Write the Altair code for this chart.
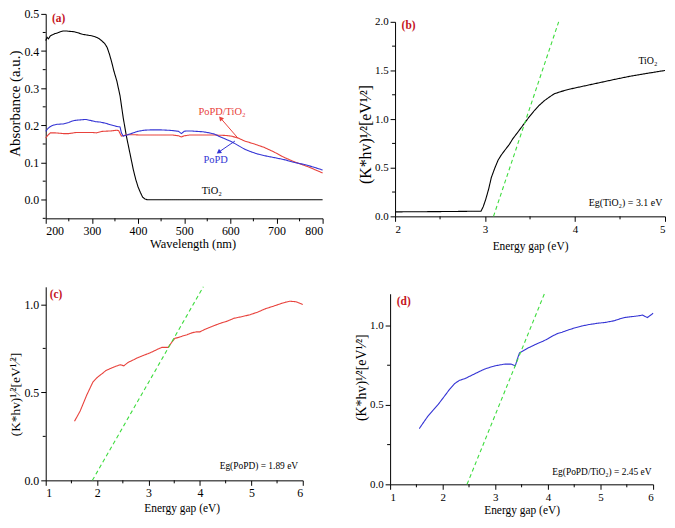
import altair as alt
import pandas as pd

W, H = 664, 510
FONT = "Liberation Serif"
RED = "#e8423c"
BLUE = "#3434d4"
GREEN = "#3ddc3d"
LABEL_RED = "#c4121c"

# ---------------- panel (a) : absorbance ----------------
a_tio2_x = [200, 203, 206, 210, 215, 220, 226, 232, 238, 245, 252, 262, 270, 280, 290, 300, 308,
            315, 322, 328, 333, 338, 343, 348, 354, 361, 368, 375, 380, 385, 390, 395, 400, 405,
            410, 415, 420, 500, 600, 700, 800]
a_tio2_y = [0.428, 0.437, 0.433, 0.441, 0.444, 0.447, 0.449, 0.452, 0.454, 0.454, 0.453, 0.452,
            0.449, 0.445, 0.443, 0.441, 0.438, 0.434, 0.427, 0.420, 0.410, 0.392, 0.370, 0.345,
            0.320, 0.280, 0.220, 0.170, 0.140, 0.110, 0.080, 0.055, 0.035, 0.020, 0.007, 0.002,
            0.0, 0.0, 0.0, 0.0, 0.0]

a_popd_x = [200, 205, 210, 217, 225, 238, 250, 258, 266, 276, 287, 298, 308, 318, 329, 340, 354,
            361, 364, 368, 378, 390, 399, 413, 427, 448, 465, 476, 488, 494, 500, 504, 515, 526,
            540, 554, 565, 575, 590, 603, 617, 631, 645, 659, 680, 701, 720, 736, 760, 780, 800]
a_popd_y = [0.184, 0.192, 0.197, 0.201, 0.203, 0.204, 0.208, 0.212, 0.214, 0.215, 0.216, 0.213,
            0.210, 0.209, 0.206, 0.202, 0.197, 0.196, 0.180, 0.171, 0.175, 0.180, 0.184, 0.187,
            0.188, 0.188, 0.187, 0.186, 0.184, 0.178, 0.184, 0.185, 0.185, 0.184, 0.183, 0.180,
            0.177, 0.171, 0.163, 0.156, 0.146, 0.136, 0.129, 0.123, 0.117, 0.112, 0.107, 0.101,
            0.095, 0.088, 0.080]

a_comp_x = [200, 205, 210, 220, 238, 250, 266, 280, 301, 310, 322, 340, 354, 358, 364, 370, 375,
            390, 406, 440, 476, 488, 494, 500, 511, 540, 568, 590, 603, 617, 631, 652, 673, 694,
            715, 735, 750, 770, 800]
a_comp_y = [0.166, 0.174, 0.180, 0.180, 0.178, 0.178, 0.181, 0.181, 0.181, 0.180, 0.184, 0.185,
            0.187, 0.186, 0.171, 0.173, 0.175, 0.175, 0.174, 0.174, 0.174, 0.172, 0.169, 0.172,
            0.174, 0.174, 0.174, 0.173, 0.171, 0.166, 0.158, 0.150, 0.141, 0.129, 0.115, 0.104,
            0.097, 0.088, 0.072]

a_labels = ["(a)", "PoPD/TiO₂", "PoPD", "TiO₂"]
a_label_x = [228, 582, 568, 560]
a_label_y = [0.487, 0.236, 0.106, 0.023]
arrow_comp = {"x": [617, 580], "y": [0.165, 0.218]}
arrow_popd = {"x": [610, 576], "y": [0.158, 0.129]}
arrow_angles = [319, 235]

# ---------------- panel (b) : TiO2 ----------------
b_x = [2.0, 2.5, 2.955, 2.98, 3.006, 3.04, 3.07, 3.11, 3.146, 3.18, 3.22, 3.27, 3.31, 3.36, 3.40,
       3.44, 3.48, 3.55, 3.60, 3.66, 3.72, 3.77, 3.85, 3.95, 4.1, 4.25, 4.45, 4.61, 4.8, 5.0]
b_y = [0.046, 0.049, 0.053, 0.10, 0.17, 0.28, 0.40, 0.50, 0.58, 0.63, 0.68, 0.74, 0.80, 0.86,
       0.91, 0.96, 1.01, 1.09, 1.14, 1.19, 1.23, 1.26, 1.285, 1.31, 1.34, 1.37, 1.41, 1.44, 1.47, 1.50]
b_fit_x = [3.094, 3.818]
b_fit_y = [0.0, 2.0]

# ---------------- panel (c) : PoPD ----------------
c_x = [1.56, 1.67, 1.80, 1.92, 2.01, 2.10, 2.17, 2.26, 2.36, 2.45, 2.52, 2.60, 2.70, 2.79, 2.88,
       2.98, 3.07, 3.16, 3.26, 3.38, 3.44, 3.51, 3.58, 3.66, 3.75, 3.85, 3.93, 4.0, 4.08, 4.16,
       4.28, 4.41, 4.53, 4.66, 4.81, 4.97, 5.12, 5.28, 5.43, 5.59, 5.67, 5.75, 5.87, 6.0]
c_y = [0.336, 0.394, 0.486, 0.560, 0.587, 0.607, 0.624, 0.636, 0.648, 0.657, 0.651, 0.670, 0.684,
       0.697, 0.708, 0.719, 0.730, 0.743, 0.756, 0.756, 0.780, 0.807, 0.812, 0.820, 0.828, 0.839,
       0.844, 0.844, 0.856, 0.866, 0.880, 0.894, 0.905, 0.921, 0.930, 0.941, 0.956, 0.976, 0.990,
       1.006, 1.013, 1.018, 1.015, 1.0]
c_fit_x = [1.908, 4.066]
c_fit_y = [0.0, 1.1]

# ---------------- panel (d) : PoPD/TiO2 ----------------
d_x = [1.555, 1.64, 1.725, 1.82, 1.914, 2.04, 2.13, 2.23, 2.32, 2.42, 2.51, 2.61, 2.70, 2.80,
       2.90, 2.99, 3.09, 3.18, 3.30, 3.38, 3.42, 3.46, 3.54, 3.62, 3.71, 3.81, 3.90, 3.99, 4.08,
       4.18, 4.27, 4.37, 4.50, 4.63, 4.78, 4.94, 5.10, 5.26, 5.35, 5.45, 5.57, 5.70, 5.80, 5.89, 6.0]
d_y = [0.351, 0.392, 0.432, 0.468, 0.503, 0.558, 0.598, 0.635, 0.655, 0.665, 0.680, 0.696, 0.711,
       0.726, 0.737, 0.746, 0.752, 0.757, 0.757, 0.746, 0.79, 0.828, 0.843, 0.858, 0.872, 0.888,
       0.900, 0.915, 0.933, 0.949, 0.958, 0.970, 0.984, 0.996, 1.006, 1.014, 1.020, 1.030, 1.040,
       1.050, 1.055, 1.060, 1.066, 1.050, 1.077]
d_fit_x = [2.463, 3.932]
d_fit_y = [0.0, 1.199]

YT = "(K*hv)¹⁄²[eV¹⁄²]"


def frame(x, y):
    df = pd.DataFrame({"x": x, "y": y})
    df["order"] = range(len(df))
    return df


def tframe(labels, xs, ys):
    return pd.DataFrame({"x": xs, "y": ys, "t": labels})


def panel(xdom, xr, ydom, yr, xvals, yvals, xminor, yminor, xtitle, ytitle,
          xfmt, yfmt, label_size, xtitle_size, ytitle_size, curves, texts, arrows=(),
          xtitle_pad=1, xtitle_x=None, ytitle_y=None):
    xs = alt.Scale(domain=xdom, range=xr, nice=False, zero=False)
    ys = alt.Scale(domain=ydom, range=yr, nice=False, zero=False)
    common = dict(tickSize=5, labelPadding=2, labelFontSize=label_size,
                  grid=False, labelOverlap=False, labelFont=FONT, titleFont=FONT,
                  labelColor="black", titleColor="black", domainColor="black",
                  tickColor="black", titleFontWeight="normal", domainWidth=1, tickWidth=1)
    xextra = {} if xtitle_x is None else {"titleX": xtitle_x}
    yextra = {} if ytitle_y is None else {"titleY": ytitle_y}
    xaxis = alt.Axis(orient="bottom", offset=yr[0] - H, values=xvals, format=xfmt,
                     title=xtitle, titleFontSize=xtitle_size, titlePadding=xtitle_pad,
                     **xextra, **common)
    yaxis = alt.Axis(orient="left", offset=-xr[0], values=yvals, format=yfmt,
                     title=ytitle, titleFontSize=ytitle_size, titlePadding=1,
                     **yextra, **common)
    X = alt.X("x:Q", scale=xs, axis=xaxis)
    Y = alt.Y("y:Q", scale=ys, axis=yaxis)
    layers = []
    for df, color, dash in curves:
        mk = alt.Chart(df).mark_line(color=color, strokeWidth=1.1,
                                     strokeDash=dash if dash else [1, 0])
        layers.append(mk.encode(x=X, y=Y, order="order:Q"))
    for df, color, size, weight, align in texts:
        layers.append(alt.Chart(df).mark_text(color=color, fontSize=size, fontWeight=weight,
                                              align=align, font=FONT).encode(x=X, y=Y, text="t:N"))
    for arr, col, ang in arrows:
        layers.append(alt.Chart(frame(arr["x"], arr["y"])).mark_line(color=col, strokeWidth=1).encode(
            x=X, y=Y, order="order:Q"))
        tip = pd.DataFrame({"x": [arr["x"][1]], "y": [arr["y"][1]]})
        layers.append(alt.Chart(tip).mark_point(shape="triangle", filled=True, color=col,
                                               size=28, angle=ang, opacity=1).encode(x=X, y=Y))
    # minor ticks
    layers.append(alt.Chart(pd.DataFrame({"x": xminor})).mark_rule(color="black", strokeWidth=1).encode(
        x=X, y=alt.value(yr[0]), y2=alt.value(yr[0] + 3)))
    layers.append(alt.Chart(pd.DataFrame({"y": yminor})).mark_rule(color="black", strokeWidth=1).encode(
        y=Y, x=alt.value(xr[0] - 3), x2=alt.value(xr[0])))
    return alt.layer(*layers)


pa = panel(
    xdom=[200, 800], xr=[38, 317], ydom=[-0.05, 0.5], yr=[210, 4],
    xvals=[200, 300, 400, 500, 600, 700, 800], yvals=[0.0, 0.1, 0.2, 0.3, 0.4, 0.5],
    xminor=[250, 350, 450, 550, 650, 750], yminor=[-0.05, 0.05, 0.15, 0.25, 0.35, 0.45],
    xtitle="Wavelength (nm)", ytitle="Absorbance (a.u.)", xfmt="d", yfmt=".1f",
    label_size=12, xtitle_size=12.5, ytitle_size=15,
    curves=[(frame(a_tio2_x, a_tio2_y), "black", None),
            (frame(a_comp_x, a_comp_y), RED, None),
            (frame(a_popd_x, a_popd_y), BLUE, None)],
    texts=[(tframe([a_labels[0]], [a_label_x[0]], [a_label_y[0]]), LABEL_RED, 11.5, "bold", "center"),
           (tframe([a_labels[1]], [a_label_x[1]], [a_label_y[1]]), RED, 10.5, "normal", "center"),
           (tframe([a_labels[2]], [a_label_x[2]], [a_label_y[2]]), BLUE, 10.5, "normal", "center"),
           (tframe([a_labels[3]], [a_label_x[3]], [a_label_y[3]]), "black", 10.5, "normal", "center")],
    arrows=[(arrow_comp, RED, arrow_angles[0]), (arrow_popd, BLUE, arrow_angles[1])],
    xtitle_pad=1, xtitle_x=186, ytitle_y=94)

pb = panel(
    xdom=[2, 5], xr=[390, 662], ydom=[0, 2], yr=[208, 12],
    xvals=[2, 3, 4, 5], yvals=[0.0, 0.5, 1.0, 1.5, 2.0],
    xminor=[2.5, 3.5, 4.5], yminor=[0.25, 0.75, 1.25, 1.75],
    xtitle="Energy gap (eV)", ytitle=YT, xfmt="d", yfmt=".1f",
    label_size=11, xtitle_size=11.5, ytitle_size=16,
    curves=[(frame(b_x, b_y), "black", None),
            (frame(b_fit_x, b_fit_y), GREEN, [4, 3])],
    texts=[(tframe(["(b)"], [2.15], [1.96]), LABEL_RED, 11.5, "bold", "center"),
           (tframe(["TiO₂"], [4.81], [1.60]), "black", 10, "normal", "center"),
           (tframe(["Eg(TiO₂) = 3.1 eV"], [4.97], [0.14]), "black", 10, "normal", "right")],
    xtitle_pad=6, ytitle_y=125)

pc = panel(
    xdom=[1, 6], xr=[38, 297], ydom=[0, 1.1], yr=[474, 279],
    xvals=[1, 2, 3, 4, 5, 6], yvals=[0.0, 0.5, 1.0],
    xminor=[1.5, 2.5, 3.5, 4.5, 5.5], yminor=[0.25, 0.75],
    xtitle="Energy gap (eV)", ytitle=YT, xfmt="d", yfmt=".1f",
    label_size=12, xtitle_size=11.5, ytitle_size=13.5,
    curves=[(frame(c_x, c_y), RED, None),
            (frame(c_fit_x, c_fit_y), GREEN, [4, 3])],
    texts=[(tframe(["(c)"], [1.2], [1.055]), LABEL_RED, 11.5, "bold", "center"),
           (tframe(["Eg(PoPD) = 1.89 eV"], [5.91], [0.079]), "black", 9.5, "normal", "right")],
    xtitle_pad=4, xtitle_x=175, ytitle_y=387)

pd_ = panel(
    xdom=[1, 6], xr=[385, 650], ydom=[0, 1.2], yr=[478, 286],
    xvals=[1, 2, 3, 4, 5, 6], yvals=[0.0, 0.5, 1.0],
    xminor=[1.5, 2.5, 3.5, 4.5, 5.5], yminor=[0.25, 0.75],
    xtitle="Energy gap (eV)", ytitle=YT, xfmt="d", yfmt=".1f",
    label_size=11, xtitle_size=11.5, ytitle_size=14,
    curves=[(frame(d_x, d_y), BLUE, None),
            (frame(d_fit_x, d_fit_y), GREEN, [4, 3])],
    texts=[(tframe(["(d)"], [1.26], [1.15]), LABEL_RED, 11.5, "bold", "center"),
           (tframe(["Eg(PoPD/TiO₂) = 2.45 eV"], [5.97], [0.077]), "black", 9.5, "normal", "right")],
    xtitle_pad=2, ytitle_y=370)

chart = alt.layer(pa, pb, pc, pd_).resolve_scale(
    x="independent", y="independent"
).resolve_axis(x="independent", y="independent").properties(
    width=W, height=H, padding=0, autosize=alt.AutoSizeParams(type="none"),
    background="white"
).configure_view(stroke=None).configure_axis(
    labelFont=FONT, titleFont=FONT, labelColor="black", titleColor="black",
    domainColor="black", tickColor="black", titleFontWeight="normal", domainWidth=1
).configure_text(font=FONT)

chart.save("out.html", embed_options={"renderer": "svg", "actions": False})
